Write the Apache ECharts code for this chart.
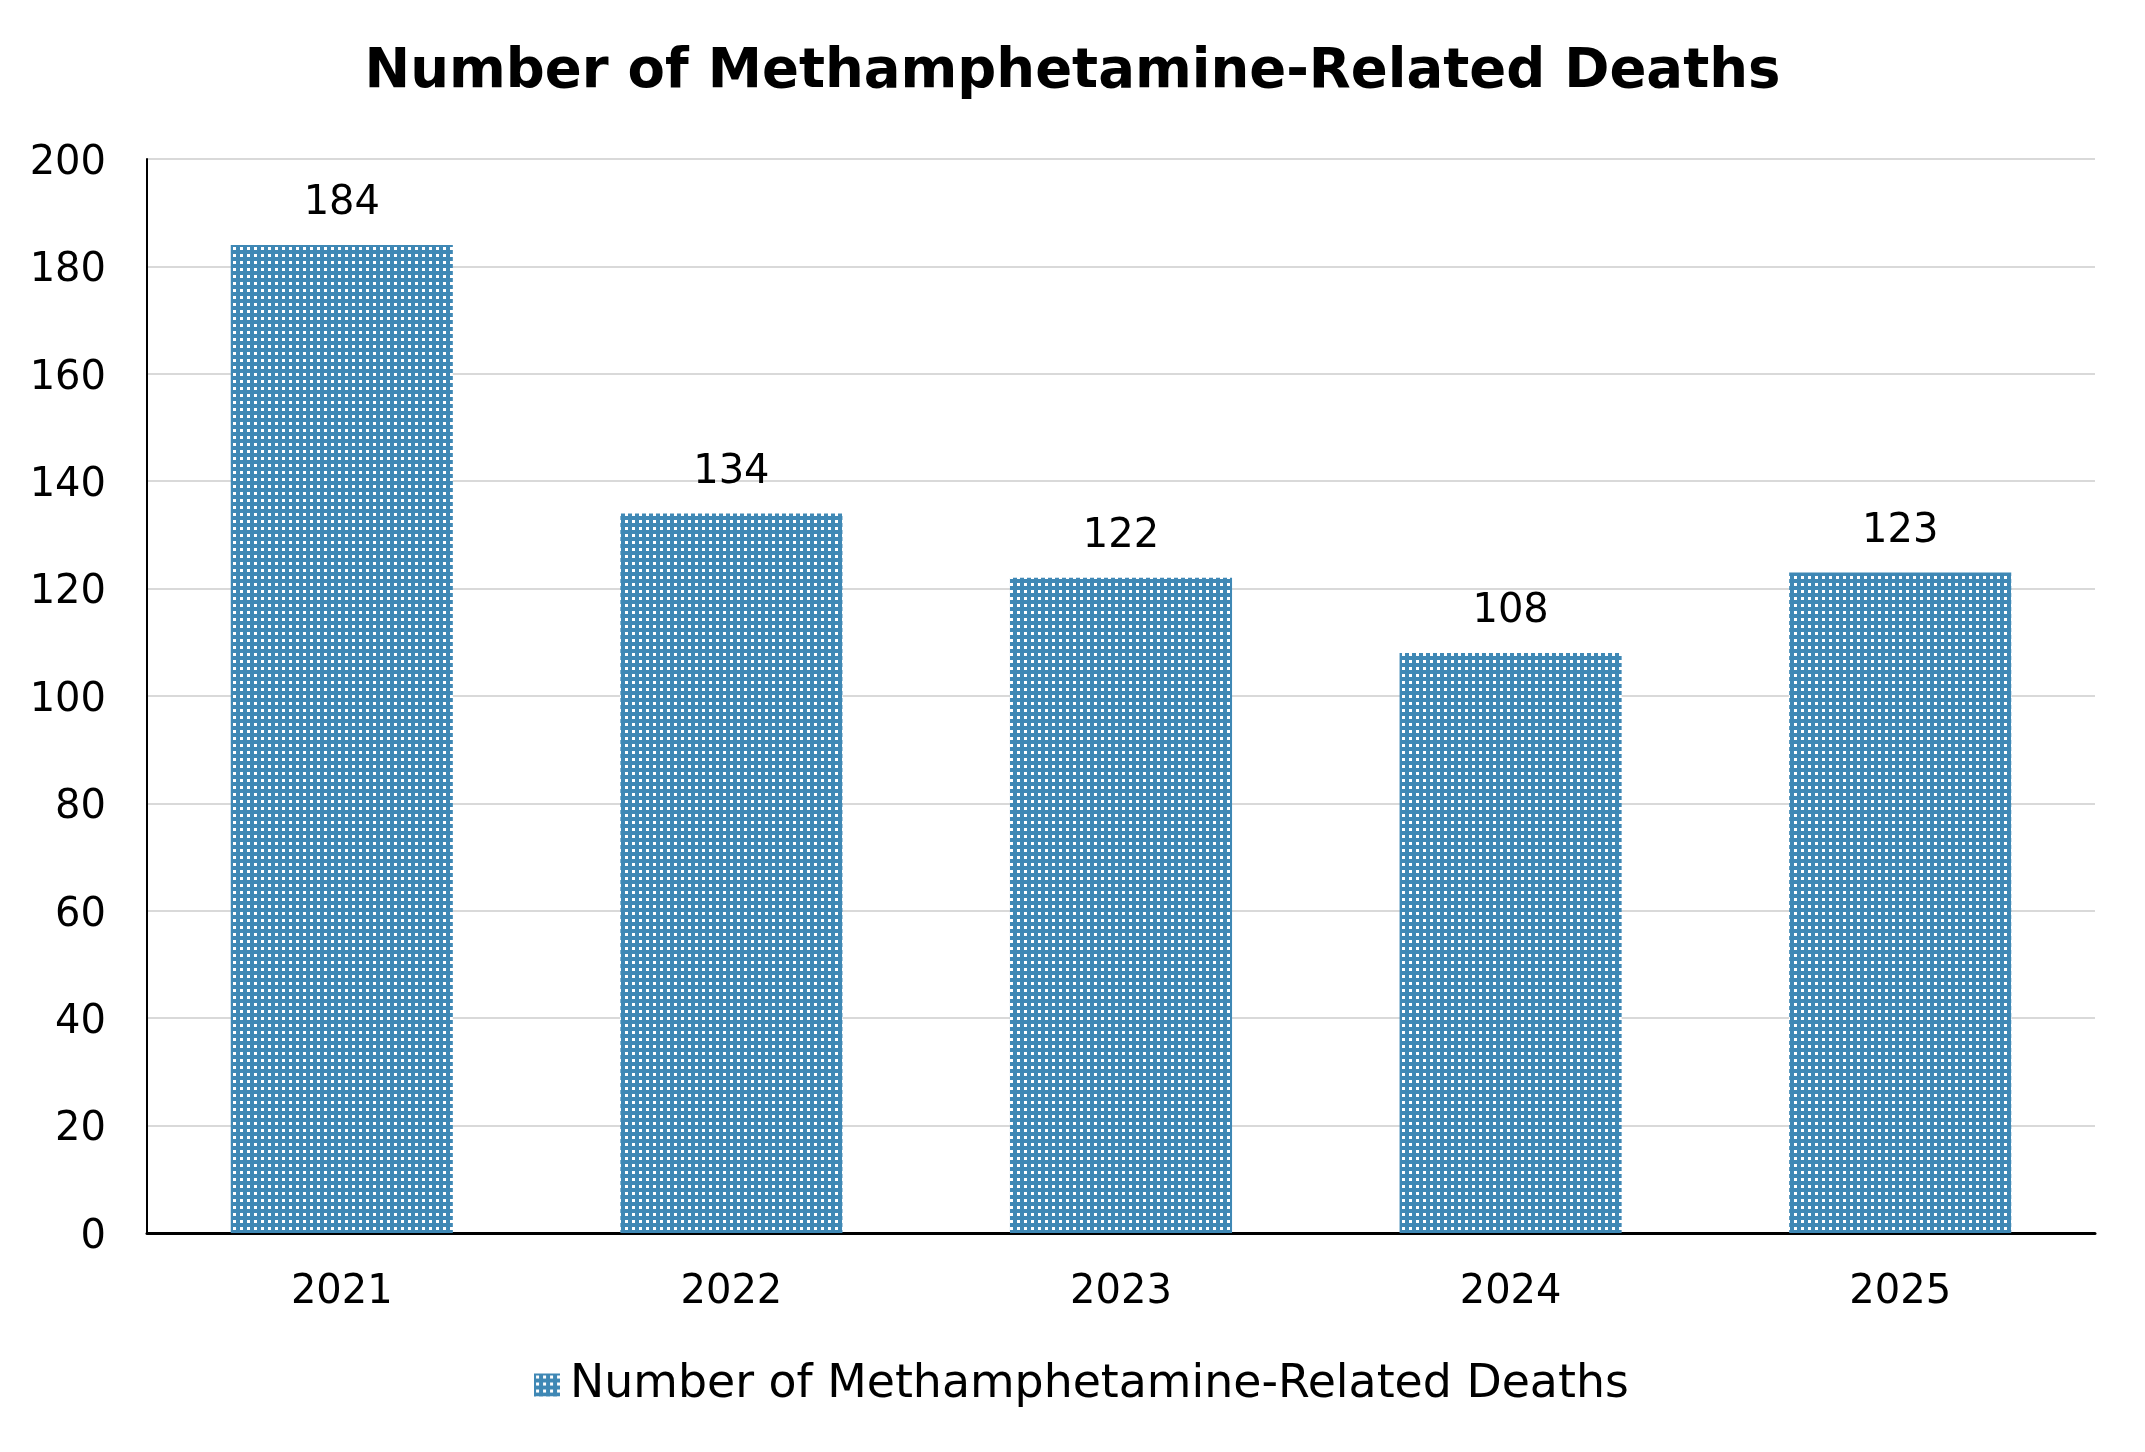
<!DOCTYPE html>
<html>
<head>
    <meta charset="UTF-8">
    <title>Methamphetamine-Related Deaths</title>
    <script src="https://cdn.jsdelivr.net/npm/echarts@6/dist/echarts.min.js"></script>
    <style>
        html, body { margin: 0; padding: 0; background: #ffffff; }
        #chart { width: 2145px; height: 1452px; }
    </style>
</head>
<body>
    <div id="chart"></div>
    <script>
        var years = ['2021', '2022', '2023', '2024', '2025'];
        var deaths = [184, 134, 122, 108, 123];
        var seriesName = 'Number of Methamphetamine-Related Deaths';

        // small dotted fill like the original bars: blue with white squares
        function makePattern() {
            var c = document.createElement('canvas');
            c.width = 7;
            c.height = 7;
            var ctx = c.getContext('2d');
            ctx.fillStyle = '#3f88b5';
            ctx.fillRect(0, 0, 7, 7);
            ctx.fillStyle = '#ffffff';
            ctx.fillRect(2, 2, 3, 3);
            return c;
        }
        var fill = { image: makePattern(), repeat: 'repeat' };

        var chart = echarts.init(document.getElementById('chart'), null, {renderer: 'canvas'});
        chart.setOption({
            animation: false,
            backgroundColor: '#ffffff',
            textStyle: { fontFamily: 'DejaVu Sans' },
            title: {
                text: seriesName,
                left: 'center',
                top: 40,
                textStyle: { fontFamily: 'DejaVu Sans', fontWeight: 'bold', fontSize: 54.5, color: '#000000' }
            },
            legend: {
                top: 1357,
                left: 529,
                itemWidth: 26,
                itemHeight: 23,
                icon: 'rect',
                textStyle: { fontFamily: 'DejaVu Sans', fontSize: 45.8, color: '#000000', padding: [0, 0, 0, 5] },
                data: [seriesName]
            },
            grid: { left: 147, right: 50, top: 159, bottom: 219, containLabel: false },
            xAxis: {
                type: 'category',
                data: years,
                axisLine: { lineStyle: { color: '#000000', width: 3 } },
                axisTick: { show: false },
                axisLabel: { fontFamily: 'DejaVu Sans', fontSize: 40, color: '#000000', margin: 40 }
            },
            yAxis: {
                type: 'value',
                min: 0,
                max: 200,
                interval: 20,
                axisLine: { show: true, lineStyle: { color: '#000000', width: 2 } },
                axisTick: { show: false },
                splitLine: { lineStyle: { color: '#d9d9d9', width: 2 } },
                axisLabel: {
                    margin: 41,
                    formatter: '{v|{value}}',
                    rich: {
                        v: { fontFamily: 'DejaVu Sans', fontSize: 40, color: '#000000', padding: [9, 0, 0, 0] }
                    }
                }
            },
            series: [{
                name: seriesName,
                type: 'bar',
                data: deaths,
                barCategoryGap: '43%',
                itemStyle: { color: fill },
                label: {
                    show: true,
                    position: 'top',
                    distance: 21,
                    fontFamily: 'DejaVu Sans',
                    fontSize: 40,
                    color: '#000000'
                }
            }]
        });
    </script>
</body>
</html>
